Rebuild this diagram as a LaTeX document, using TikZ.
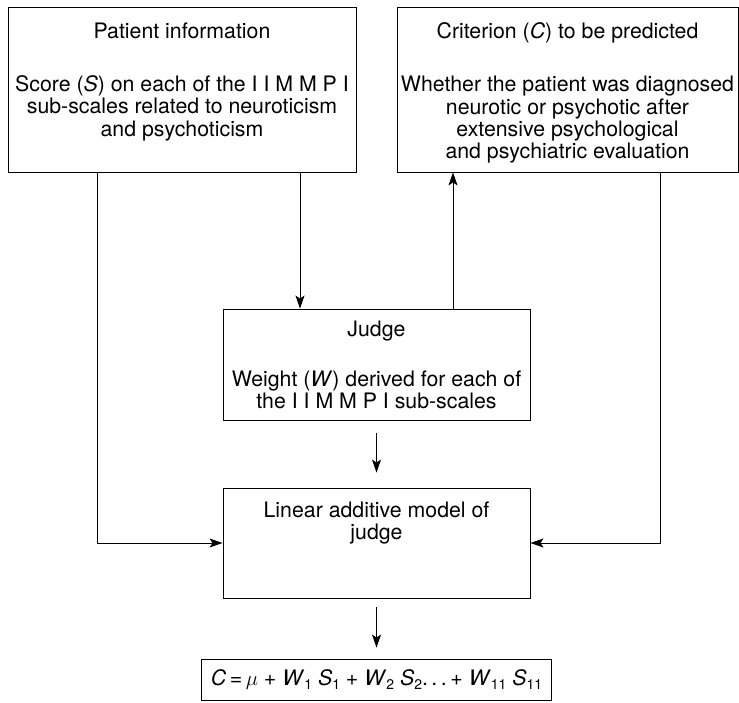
\documentclass[tikz,border=0pt]{standalone}
\usepackage{fontspec}
\setmainfont{TeX Gyre Heros}
\usepackage{tikz}
\usetikzlibrary{positioning,arrows.meta}
\newcommand{\low}[1]{\raisebox{-4pt}{\fontsize{14}{14}\selectfont #1}}

\begin{document}
\begin{tikzpicture}[x=1pt,y=-1pt,
  box/.style={rectangle,draw,line width=0.9pt,inner sep=0pt},
  txt/.style={align=center,inner sep=0pt,font=\fontsize{21.3}{22.3}\selectfont},
  flow/.style={line width=0.9pt,-{Stealth[length=13pt,width=9pt,inset=3pt]}}]
\useasboundingbox (0,0) rectangle (739,703);
\node[box,minimum width=348pt,minimum height=165pt] (pinfo) at (182,89.5) {};
\node[txt,below=16pt of pinfo.north] (pinfotxt) {Patient information\\[31pt]
  Score (\textit{S}) on each of the I I M M P I\\
  sub-scales related to neuroticism\\ and psychoticism};
\node[box,minimum width=341pt,minimum height=165pt] (crit) at (567.5,89.5) {};
\node[txt,below=16pt of crit.north] (crittxt) {Criterion (\textit{C}) to be predicted\\[31pt]
  Whether the patient was diagnosed\\ neurotic or psychotic after\\
  extensive psychological\\ and psychiatric evaluation};
\node[box,minimum width=307pt,minimum height=111pt] (judge) at (376.5,364.5) {};
\node[txt,below=12pt of judge.north] (judgetxt) {Judge\\[27.5pt]
  Weight (\textit{W}) derived for each of\\ the I I M M P I sub-scales};
\node[box,minimum width=307pt,minimum height=110pt] (lam) at (376.5,543) {};
\node[txt,below=14pt of lam.north] (lamtxt) {Linear additive model of\\ judge};
\node[box,txt,minimum width=350pt,minimum height=41pt] (eqn) at (376.5,679.5)
  {\textit{C}\,=\,$\mu$ + \textit{W}\low{1} \textit{S}\low{1} + \textit{W}\low{2} \textit{S}\low{2}.\,.\,.\,+ \textit{W}\low{11} \textit{S}\low{11}};
\coordinate (pleft) at ([xshift=-85pt]pinfo.south);
\coordinate (pright) at ([xshift=118pt]pinfo.south);
\coordinate (jup) at ([xshift=76.5pt]judge.north);
\coordinate (cright) at ([xshift=92.5pt]crit.south);
\draw[flow] (pleft) |- (lam.west);
\draw[flow] (pright) -- (pright |- judge.north);
\draw[flow] (jup) -- (jup |- crit.south);
\draw[flow] (cright) |- (lam.east);
\draw[flow] ([yshift=-13pt]judge.south) -- ([yshift=15pt]lam.north);
\draw[flow] ([yshift=-9pt]lam.south) -- ([yshift=11pt]eqn.north);
\end{tikzpicture}
\end{document}
